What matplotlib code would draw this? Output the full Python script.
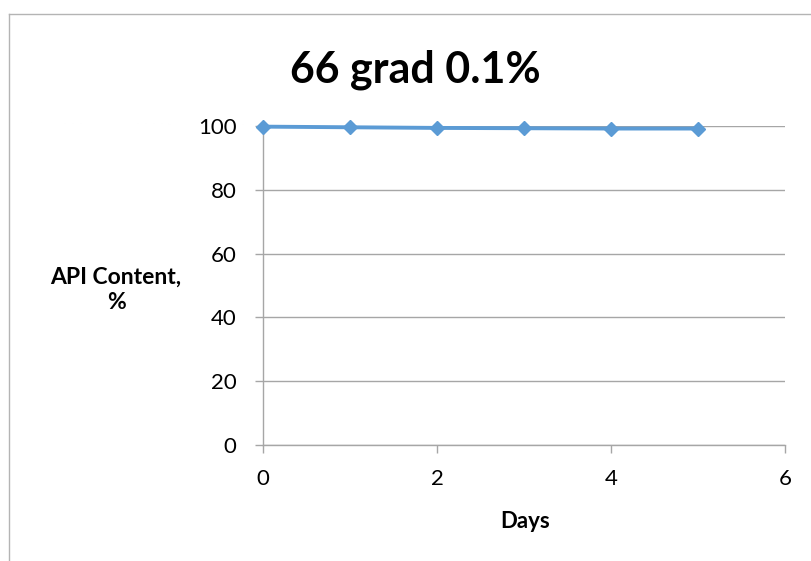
import matplotlib.pyplot as plt
from matplotlib.lines import Line2D

# API content over time, 66 grad 0.1%
days = [0, 1, 2, 3, 4, 5]
api_content = [99.8, 99.6, 99.4, 99.3, 99.2, 99.2]
x_ticks = [0, 2, 4, 6]
y_ticks = [0, 20, 40, 60, 80, 100]

plt.rcParams['font.family'] = ['Lato', 'DejaVu Sans']
grey = '#a6a6a6'
blue = '#5b9bd5'

fig = plt.figure(figsize=(8.11, 5.61), dpi=100)
ax = fig.add_axes([263 / 811, 1 - 445 / 561, (785 - 263) / 811, (445 - 126) / 561])

ax.plot(days, api_content, color=blue, lw=2.8, marker='D', ms=7.5,
        markeredgecolor=blue, markerfacecolor=blue, clip_on=False, zorder=3)

ax.set_xlim(0, 6)
ax.set_ylim(0, 100)
ax.set_xticks(x_ticks)
ax.set_yticks(y_ticks)
ax.tick_params(axis='both', direction='out', length=6, width=1, color=grey,
               labelsize=16)
ax.tick_params(axis='y', pad=13)
ax.tick_params(axis='x', pad=11)
ax.yaxis.grid(True, color=grey, lw=1)
ax.set_axisbelow(True)
for s in ['top', 'right']:
    ax.spines[s].set_visible(False)
for s in ['left', 'bottom']:
    ax.spines[s].set_color(grey)
    ax.spines[s].set_linewidth(1)

fig.text(415 / 811, 1 - 70 / 561, '66 grad 0.1%', ha='center', va='center',
         fontsize=31, fontweight='bold')
fig.text(116 / 811, 1 - 290 / 561, 'API Content,\n%', ha='center', va='center',
         fontsize=16.5, fontweight='bold', linespacing=1.25)
fig.text(525 / 811, 1 - 522 / 561, 'Days', ha='center', va='center',
         fontsize=16, fontweight='bold')

# chart frame (only top and left edges visible)
fig.add_artist(Line2D([8.5 / 811, 8.5 / 811], [0, 1 - 14 / 561],
                      transform=fig.transFigure, color='#b4b4b4', lw=1))
fig.add_artist(Line2D([8.5 / 811, 1], [1 - 14 / 561, 1 - 14 / 561],
                      transform=fig.transFigure, color='#b4b4b4', lw=1))

plt.savefig('out.png', dpi=100)
